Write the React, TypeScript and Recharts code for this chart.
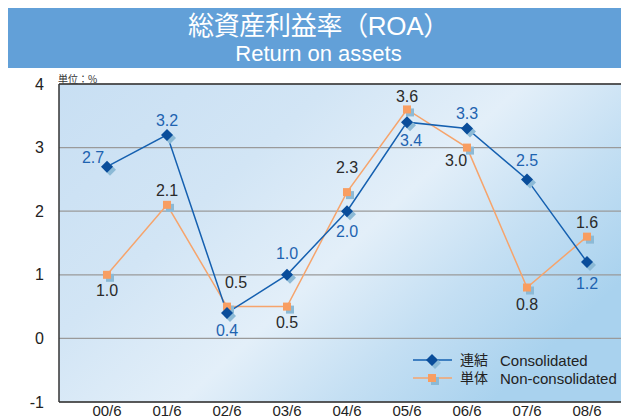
import { LineChart, Line, XAxis, YAxis, CartesianGrid, LabelList, ReferenceLine } from "recharts";

const periods = ["00/6", "01/6", "02/6", "03/6", "04/6", "05/6", "06/6", "07/6", "08/6"];
const consolidated = [2.7, 3.2, 0.4, 1.0, 2.0, 3.4, 3.3, 2.5, 1.2];
const nonConsolidated = [1.0, 2.1, 0.5, 0.5, 2.3, 3.6, 3.0, 0.8, 1.6];
const yTicks = [-1, 0, 1, 2, 3, 4];

// label offsets (dx, dy) from each point
const consLabelPos = [[-14, -9], [0, -14], [0, 18], [0, -21], [0, 20], [4, 18], [0, -15], [0, -19], [0, 21]];
const nonLabelPos = [[0, 16], [0, -14], [9, -24], [0, 16], [0, -25], [0, -13], [-11, 13], [0, 17], [0, -14]];

const data = periods.map((p, i) => ({ period: p, cons: consolidated[i], non: nonConsolidated[i] }));

const BLUE = "#1560b0";
const BLUE_DARK = "#0a4d9a";
const ORANGE = "#f6a46c";
const ORANGE_MARK = "#f89e62";
const SHADOW = "#8cbad6";
const FONT = '"Liberation Sans", Arial, "Noto Sans CJK JP", sans-serif';
const JP = '"Noto Sans CJK JP", "Liberation Sans", sans-serif';

const Diamond = (props: any) => {
  const { cx, cy } = props;
  if (cx == null || cy == null) return null;
  const r = 6;
  const d = (x: number, y: number) => `M${x},${y - r}L${x + r},${y}L${x},${y + r}L${x - r},${y}Z`;
  return (
    <g>
      <path d={d(cx + 3, cy + 3)} fill={SHADOW} />
      <path d={d(cx, cy)} fill={BLUE_DARK} />
    </g>
  );
};

const Square = (props: any) => {
  const { cx, cy } = props;
  if (cx == null || cy == null) return null;
  return (
    <g>
      <rect x={cx - 4 + 3} y={cy - 4 + 3} width={8} height={8} fill={SHADOW} />
      <rect x={cx - 4} y={cy - 4} width={8} height={8} fill={ORANGE_MARK} />
    </g>
  );
};

const makeLabel = (pos: number[][], color: string) => (props: any) => {
  const { x, y, value, index } = props;
  const [dx, dy] = pos[index] || [0, -14];
  return (
    <text x={x + dx} y={y + dy} fill={color} fontSize={16} fontFamily={FONT} textAnchor="middle" dominantBaseline="central">
      {Number(value).toFixed(1)}
    </text>
  );
};

export default function App() {
  return (
    <div style={{ position: "relative", width: 621, height: 411, fontFamily: FONT }}>
      <div
        style={{
          position: "absolute", left: 0, top: 0, width: 621, height: 60, background: "#62a0d8",
          color: "#fff", textAlign: "center",
        }}
      >
        <div style={{ fontFamily: FONT, fontSize: 26, lineHeight: "28px", paddingTop: 4, letterSpacing: -0.3 }}>総資産利益率（ROA）</div>
        <div style={{ fontSize: 22, lineHeight: "24px", marginTop: 2 }}>Return on assets</div>
      </div>
      <div style={{ position: "absolute", left: 50, top: 63, fontSize: 10, fontFamily: JP, color: "#333" }}>単位：%</div>
      <LineChart width={621} height={411} data={data} margin={{ top: 76, right: 0, bottom: 0, left: 0 }}>
        <defs>
          <linearGradient id="bg" x1="0" y1="0" x2="1" y2="0.6">
            <stop offset="0" stopColor="#c8dff3" />
            <stop offset="0.35" stopColor="#d2e5f5" />
            <stop offset="0.6" stopColor="#e3eff9" />
            <stop offset="0.8" stopColor="#c4dff3" />
            <stop offset="1" stopColor="#a9d2ee" />
          </linearGradient>
        </defs>
        <CartesianGrid vertical={false} fill="url(#bg)" stroke="#9a9a9a" strokeWidth={1.2} />
        <XAxis
          dataKey="period"
          padding={{ left: 48, right: 42 }}
          height={17}
          tickLine={false}
          tickSize={0}
          axisLine={{ stroke: "#333", strokeWidth: 1.5 }}
          tick={{ fontSize: 15, fill: "#222", fontFamily: FONT }}
          tickMargin={3}
          interval={0}
        />
        <YAxis
          domain={[-1, 4]}
          ticks={yTicks}
          width={51}
          tickLine={false}
          axisLine={{ stroke: "#333", strokeWidth: 1.5 }}
          tick={{ fontSize: 16, fill: "#222", fontFamily: FONT }}
          tickMargin={9}
        />
        <ReferenceLine y={4} stroke="#333" strokeWidth={1.5} />
        <Line
          dataKey="non"
          stroke={ORANGE}
          strokeWidth={1.5}
          dot={<Square />}
          activeDot={false}
          isAnimationActive={false}
        >
          <LabelList dataKey="non" content={makeLabel(nonLabelPos, "#2a2a2a")} />
        </Line>
        <Line
          dataKey="cons"
          stroke={BLUE}
          strokeWidth={1.5}
          dot={<Diamond />}
          activeDot={false}
          isAnimationActive={false}
        >
          <LabelList dataKey="cons" content={makeLabel(consLabelPos, "#1e63b0")} />
        </Line>
        <g>
          <line x1={405} y1={352} x2={444} y2={352} stroke={BLUE} strokeWidth={1.5} />
          <Diamond cx={424} cy={352} />
          <text x={452} y={352} fontSize={14} fill="#222" dominantBaseline="central" fontFamily={FONT}>
            連結
          </text>
          <text x={492} y={352} fontSize={15} fill="#222" dominantBaseline="central" fontFamily={FONT}>
            Consolidated
          </text>
          <line x1={405} y1={370} x2={444} y2={370} stroke={ORANGE} strokeWidth={1.5} />
          <Square cx={424} cy={370} />
          <text x={452} y={370} fontSize={14} fill="#222" dominantBaseline="central" fontFamily={FONT}>
            単体
          </text>
          <text x={492} y={370} fontSize={15} fill="#222" dominantBaseline="central" fontFamily={FONT}>
            Non-consolidated
          </text>
        </g>
      </LineChart>
    </div>
  );
}
